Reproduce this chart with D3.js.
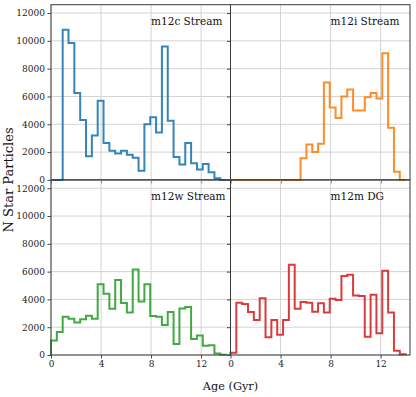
<!DOCTYPE html>
<html><head><meta charset="utf-8">
<script src="https://d3js.org/d3.v7.min.js"></script>
<style>body{margin:0;background:#fff}svg{display:block}</style>
</head><body><svg id="c" width="416" height="397"></svg>
<script>
const binCount = 30, ageMax = 14;
const panelNames = ["m12c Stream", "m12i Stream", "m12w Stream", "m12m DG"];
const colors = ["#1f77b4", "#ff7f0e", "#2ca02c", "#d62728"];
const m12c = [0,0,10800,9850,6250,4300,1700,3200,5700,2650,2100,1900,2100,1800,1600,650,4000,4500,3400,9600,4250,1650,1100,2650,1200,750,1150,550,120,0];
const m12i = [0,0,0,0,0,0,0,0,0,0,0,0,1550,2550,2000,2600,7000,5200,4450,6000,6500,5000,5000,5950,6250,5850,9100,3750,580,0];
const m12w = [1050,1650,2750,2600,2330,2570,2830,2600,5100,4400,3330,5400,3750,3050,6150,3850,5100,2800,2750,2150,3100,800,3350,3450,1150,1400,670,700,100,20];
const m12m = [170,3760,3670,3090,2520,4080,1270,2520,1460,2520,6500,3330,3810,3760,3120,3720,3050,4050,3960,5680,5780,4290,4240,1320,4340,1560,6070,3050,310,50];
const xTicks = [0,4,8,12];
const yTicks = [0,2000,4000,6000,8000,10000,12000];
const series = [m12c, m12i, m12w, m12m];

const svg = d3.select("#c");
const font = "DejaVu Serif";
const L = 51, M = 230.5, R = 410, T = 4.7, Mid = 179.9, B = 355;
const xDom = [0, 14.35], yDom = [0, 12600];
const panels = [
  {x:[L,M], y:[Mid,T]}, {x:[M,R], y:[Mid,T]},
  {x:[L,M], y:[B,Mid]}, {x:[M,R], y:[B,Mid]}
];
const edges = d3.range(binCount+1).map(i => i*ageMax/binCount);

panels.forEach((p, k) => {
  const x = d3.scaleLinear().domain(xDom).range(p.x);
  const y = d3.scaleLinear().domain(yDom).range(p.y);
  const g = svg.append("g");
  g.selectAll(".gx").data(xTicks).join("line")
    .attr("x1", d=>x(d)).attr("x2", d=>x(d)).attr("y1", p.y[0]).attr("y2", p.y[1])
    .attr("stroke", "#d3d3d3").attr("stroke-width", 1);
  g.selectAll(".gy").data(yTicks).join("line")
    .attr("x1", p.x[0]).attr("x2", p.x[1]).attr("y1", d=>y(d)).attr("y2", d=>y(d))
    .attr("stroke", "#d3d3d3").attr("stroke-width", 1);
  const vals = series[k];
  const pts = [[edges[0], 0]];
  vals.forEach((v,i) => { pts.push([edges[i], v]); pts.push([edges[i+1], v]); });
  pts.push([edges[binCount], 0]);
  g.append("path").attr("d", d3.line().x(d=>x(d[0])).y(d=>y(d[1]))(pts))
    .attr("fill","none").attr("stroke", colors[k]).attr("stroke-width", 2)
    .attr("stroke-opacity", 0.9).attr("stroke-linejoin","miter");
  g.append("rect").attr("x", p.x[0]).attr("y", p.y[1]).attr("width", p.x[1]-p.x[0]).attr("height", p.y[0]-p.y[1])
    .attr("fill","none").attr("stroke","#3a3a3a").attr("stroke-width",1);
  g.append("text").attr("x", x(8)).attr("y", y(11150)).text(panelNames[k])
    .attr("font-family", font).attr("font-size", 10.5).attr("fill","#111");
  const ya = d3.axisLeft(y).tickValues(yTicks).tickSize(3.5).tickPadding(2.5)
    .tickFormat(k%2===0 ? d3.format("d") : () => "");
  const yg = svg.append("g").attr("transform", `translate(${p.x[0]},0)`).call(ya);
  yg.select(".domain").remove();
  yg.selectAll("text").attr("font-family", font).attr("font-size", 9).attr("fill","#222");
  yg.selectAll("line").attr("stroke","#444");
  const xa = d3.axisBottom(x).tickValues(xTicks).tickSize(3.5).tickPadding(2)
    .tickFormat(k>=2 ? d3.format("d") : () => "");
  const xg = svg.append("g").attr("transform", `translate(0,${p.y[0]})`).call(xa);
  xg.select(".domain").remove();
  xg.selectAll("text").attr("font-family", font).attr("font-size", 9).attr("fill","#222");
  xg.selectAll("line").attr("stroke","#444");
});

svg.append("text").attr("transform", `translate(13,${Mid}) rotate(-90)`).attr("text-anchor","middle")
  .attr("font-family", font).attr("font-size", 13).attr("fill","#111").text("N Star Particles");
svg.append("text").attr("x", M).attr("y", 390).attr("text-anchor","middle")
  .attr("font-family", font).attr("font-size", 11.3).attr("fill","#111").text("Age (Gyr)");
</script></body></html>
